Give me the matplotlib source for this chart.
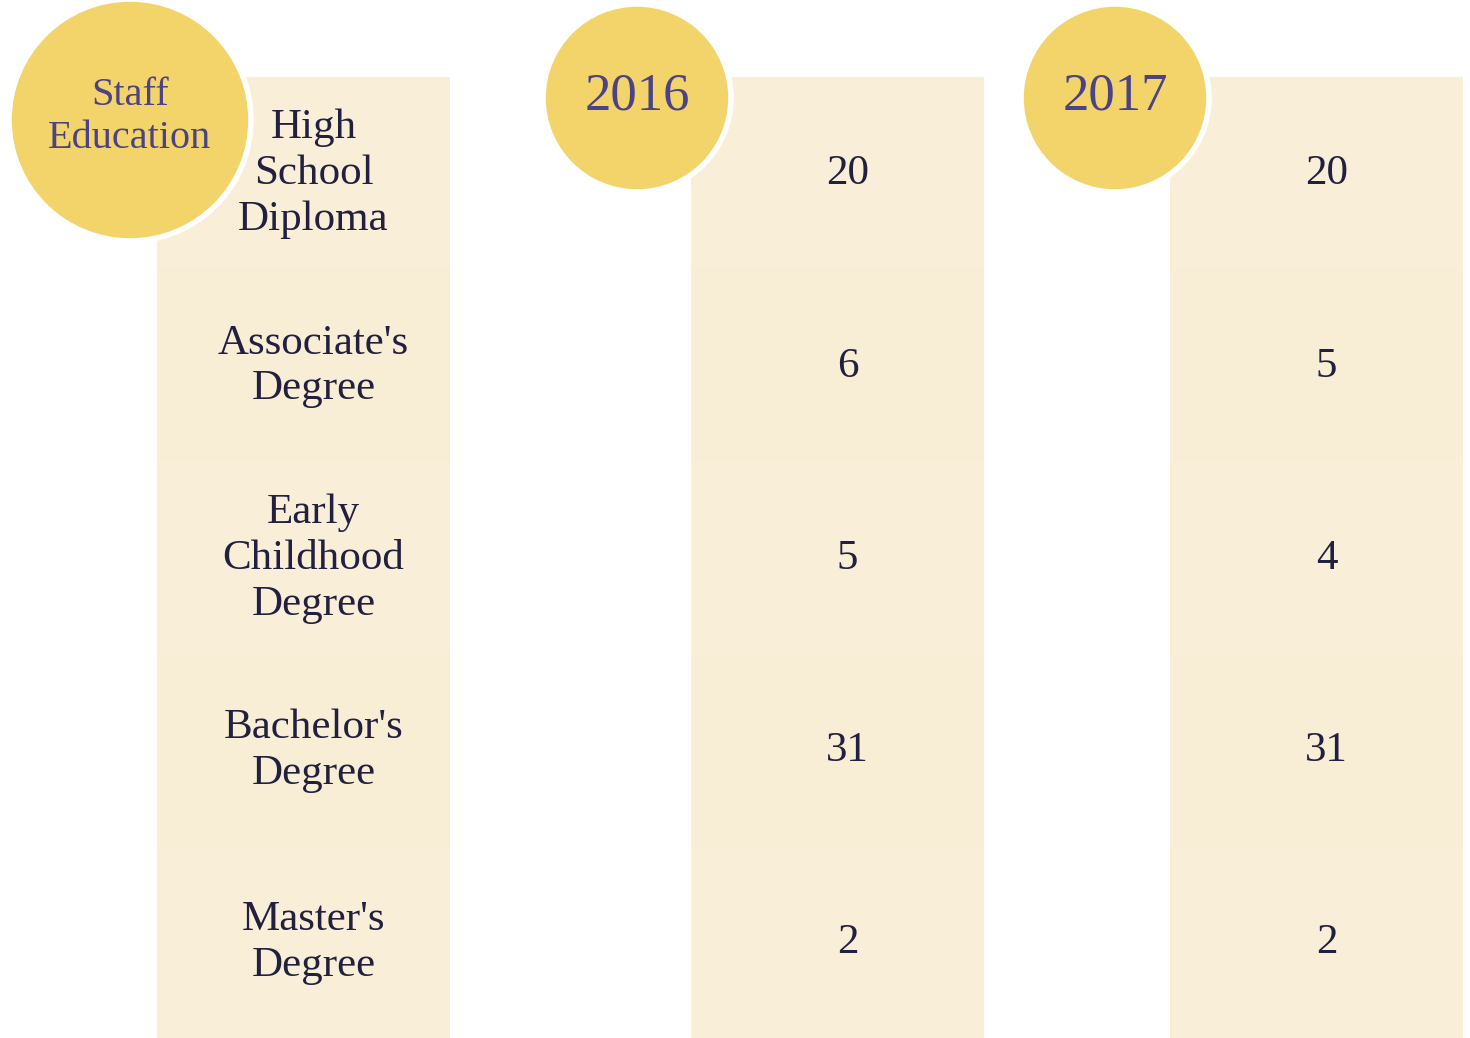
import matplotlib
matplotlib.use("Agg")
import matplotlib.pyplot as plt
from matplotlib.patches import Circle

categories = ["High\nSchool\nDiploma", "Associate's\nDegree", "Early\nChildhood\nDegree",
              "Bachelor's\nDegree", "Master's\nDegree"]
values_2016 = [20, 6, 5, 31, 2]
values_2017 = [20, 5, 4, 31, 2]
headers = ["Staff\nEducation", "2016", "2017"]

W, H = 1470, 1038
fig = plt.figure(figsize=(W / 100, H / 100), dpi=100)
ax = fig.add_axes([0, 0, 1, 1])
ax.set_xlim(0, W)
ax.set_ylim(H, 0)
ax.set_aspect("equal")
ax.axis("off")

serif = ["Liberation Serif", "DejaVu Serif"]
panel_colors = ["#F9EFD8", "#F8EED6"]
circle_color = "#F3D46B"
head_text = "#4B4385"
body_text = "#221F3F"

col_left = [157, 691, 1170]
col_w = 293
top = 77
row_h = (H - top) / len(categories)

columns = [categories, values_2016, values_2017]
for ci, (x0, col) in enumerate(zip(col_left, columns)):
    for ri, v in enumerate(col):
        y0 = top + ri * row_h
        ax.bar(x0, row_h, width=col_w, bottom=y0, align="edge",
               color=panel_colors[ri % 2], linewidth=0, zorder=1)
        cy = y0 + row_h / 2 + 1
        cx = x0 + col_w / 2 + 10
        ax.text(cx, cy, str(v), ha="center", va="center", fontsize=31,
                family=serif, color=body_text, linespacing=1.25, zorder=3)

# header circles
circles = [(130, 120, 121, 29, 117), (637, 98, 94, 38, 96), (1115, 98, 94, 38, 96)]
for (cx, cy, r, fs, ty), label in zip(circles, headers):
    ax.add_patch(Circle((cx, cy), r, facecolor=circle_color, edgecolor="white",
                        linewidth=4, zorder=4))
    ax.text(cx, ty, label, ha="center", va="center", fontsize=fs,
            family=serif, color=head_text, linespacing=1.2, zorder=5)

fig.savefig("out.png", dpi=100)
